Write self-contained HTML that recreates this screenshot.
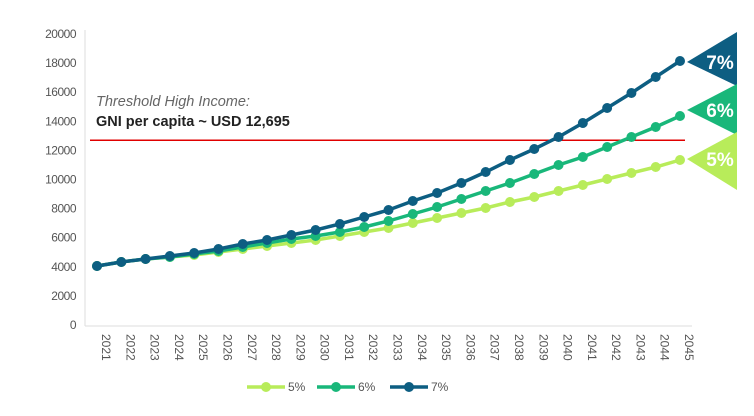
<!DOCTYPE html>
<html><head><meta charset="utf-8"><style>
body{margin:0;background:#fff;}
svg{display:block;font-family:"Liberation Sans",sans-serif;}
</style></head><body>
<svg id="c" width="754" height="416"></svg>
<script>
const years=[2021,2022,2023,2024,2025,2026,2027,2028,2029,2030,2031,2032,2033,2034,2035,2036,2037,2038,2039,2040,2041,2042,2043,2044,2045];
const s5=[4055,4330,4536,4674,4811,5017,5223,5430,5636,5842,6117,6392,6667,7010,7354,7698,8041,8454,8797,9210,9622,10034,10447,10859,11340];
const s6=[4055,4330,4536,4674,4880,5086,5361,5636,5911,6117,6392,6735,7148,7629,8110,8660,9210,9760,10378,10997,11546,12234,12921,13608,14364];
const s7=[4055,4330,4536,4742,4948,5223,5567,5842,6186,6529,6942,7423,7904,8522,9072,9760,10515,11340,12096,12921,13883,14914,15945,17045,18144];
const yTicks=[0,2000,4000,6000,8000,10000,12000,14000,16000,18000,20000];
const threshold=12695;
const seriesNames=["5%","6%","7%"];
const colors=["#b8ec5a","#19b77a","#0d5e82"];
const NS="http://www.w3.org/2000/svg";
const svg=document.getElementById('c');
function X(i){return 97+i*(583/24);}
function Y(v){return 325-v*0.01455;}
function el(t,a,p){const e=document.createElementNS(NS,t);for(const k in a)e.setAttribute(k,a[k]);(p||svg).appendChild(e);return e;}
const ax=el('line',{x1:85,y1:30,x2:85,y2:326,stroke:'#ddd','stroke-width':1});


const bx=el('line',{x1:85,y1:326,x2:692,y2:326,stroke:'#ddd','stroke-width':1});


yTicks.forEach(v=>{const t=el('text',{x:76,y:Y(v)+4,'text-anchor':'end','font-size':12,fill:'#555','letter-spacing':'-0.5'});t.textContent=v;

});
years.forEach((y,i)=>{const t=el('text',{transform:`translate(${X(i)+5},334) rotate(90)`,'font-size':12,fill:'#555'});t.textContent=y;

});
const th=el('line',{x1:90,y1:Y(threshold),x2:685,y2:Y(threshold),stroke:'#e00000','stroke-width':1.5});


const t1=el('text',{x:96,y:106,'font-size':14.5,'font-style':'italic',fill:'#666'});t1.textContent='Threshold High Income:';


const t2=el('text',{x:96,y:126,'font-size':14.5,'font-weight':'bold',fill:'#222'});t2.textContent='GNI per capita ~ USD 12,695';


[s5,s6,s7].forEach((s,k)=>{
 const g=el('g',{});
 
 
 el('polyline',{points:s.map((v,i)=>X(i)+','+Y(v)).join(' '),fill:'none',stroke:colors[k],'stroke-width':3.5},g);
 s.forEach((v,i)=>{const c=el('circle',{cx:X(i),cy:Y(v),r:5,fill:colors[k]},g);
 
 });
});
const flags=[[32,62,86],[84,110,135],[132,159,190]];
[2,1,0].forEach(k=>{
 const f=flags[2-k];
 const g=el('g',{});
 
 
 el('polygon',{points:`737,${f[0]} 687,${f[1]} 737,${f[2]}`,fill:colors[k]},g);
 const t=el('text',{x:720,y:f[1]+7,'text-anchor':'middle','font-size':19,'font-weight':'bold',fill:'#fff'},g);t.textContent=seriesNames[k];
});
const lx=[247,317,390];
seriesNames.forEach((n,k)=>{
 const g=el('g',{});
 
 
 el('line',{x1:lx[k],y1:387,x2:lx[k]+38,y2:387,stroke:colors[k],'stroke-width':3.5},g);
 el('circle',{cx:lx[k]+19,cy:387,r:5,fill:colors[k]},g);
 const t=el('text',{x:lx[k]+41,y:391,'font-size':12,fill:'#555'},g);t.textContent=n;
});
</script>
</body></html>
